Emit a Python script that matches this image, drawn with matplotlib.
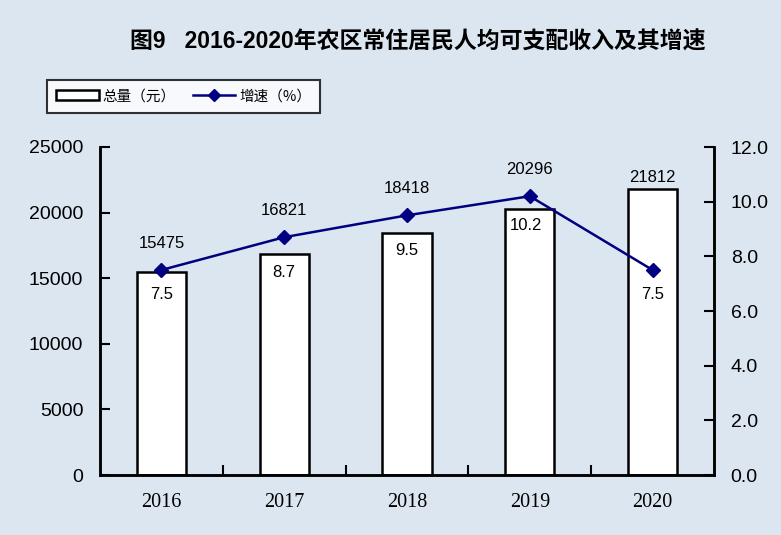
import matplotlib
matplotlib.use("Agg")
import matplotlib.pyplot as plt
from matplotlib.lines import Line2D
from matplotlib.patches import Patch

years = ["2016", "2017", "2018", "2019", "2020"]
income = [15475, 16821, 18418, 20296, 21812]
growth = [7.5, 8.7, 9.5, 10.2, 7.5]

bg = "#dce6f1"
navy = "#000080"
sans = ["Liberation Sans", "Noto Sans CJK SC", "DejaVu Sans"]
cjk = ["Noto Sans CJK SC", "DejaVu Sans"]

fig = plt.figure(figsize=(7.81, 5.35), dpi=100, facecolor=bg)
ax = fig.add_axes([100 / 781, 60 / 535, 614 / 781, 328 / 535])
ax.set_facecolor(bg)
ax2 = ax.twinx()

x = list(range(len(years)))
ax.bar(x, income, width=0.40, color="white", edgecolor="black", linewidth=1.8, zorder=2)
ax2.plot(x, growth, color=navy, linewidth=1.8, marker="D", markersize=7.5, zorder=3)

ax.set_xlim(-0.5, 4.5)
ax.set_ylim(0, 25000)
ax.set_yticks(range(0, 25001, 5000))
ax2.set_ylim(0, 12)
ax2.set_yticks([0, 2, 4, 6, 8, 10, 12])
ax2.set_yticklabels([f"{v:.1f}" for v in [0, 2, 4, 6, 8, 10, 12]])

ax.set_xticks(x)
ax.set_xticklabels(years, fontfamily="Liberation Serif", fontsize=14.5)
ax.set_xticks([0.5, 1.5, 2.5, 3.5], minor=True)
ax.tick_params(axis="x", which="major", length=0, pad=13)
ax.tick_params(axis="x", which="minor", direction="in", length=7, width=1.5)
ax.tick_params(axis="y", direction="in", length=7, width=1.5, labelsize=14, pad=12)
ax2.tick_params(axis="y", direction="in", length=7, width=1.5, labelsize=14, pad=12)
for t in ax.get_yticklabels() + ax2.get_yticklabels():
    t.set_fontfamily("Liberation Sans")

for a in (ax, ax2):
    a.spines["top"].set_visible(False)
    for s in ("left", "right", "bottom"):
        a.spines[s].set_linewidth(1.8)

# value labels (offsets in points, chosen to sit like the original)
inc_off = [14, 14, 14, 14, 3]
for i, v in enumerate(income):
    top = max(v, growth[i] / 12 * 25000)
    ax.annotate(str(v), (i, top), xytext=(0, inc_off[i]), textcoords="offset points",
                ha="center", va="bottom", fontsize=12, fontfamily="Liberation Sans")
grow_off = [-12, -20, -20, -16, -12]
for i, g in enumerate(growth):
    ax2.annotate(f"{g:.1f}", (i, g), xytext=(-3 if i == 3 else 0, grow_off[i]),
                 textcoords="offset points", ha="center", va="top",
                 fontsize=12, fontfamily="Liberation Sans")

fig.text(418 / 781, 1 - 42 / 535, "图9   2016-2020年农区常住居民人均可支配收入及其增速",
         ha="center", va="center", fontsize=16.5, fontweight="bold", fontfamily=sans)

handles = [Patch(facecolor="white", edgecolor="black", linewidth=1.8),
           Line2D([], [], color=navy, linewidth=1.8, marker="D", markersize=6.5)]
leg = fig.legend(handles, ["总量（元）", "增速（%）"], loc="upper left",
                 bbox_to_anchor=(47 / 781, 1 - 80 / 535), ncol=2, frameon=True,
                 fancybox=False, edgecolor="black", facecolor="white",
                 prop={"family": cjk, "size": 10.5}, borderaxespad=0,
                 handlelength=2.9, handletextpad=0.25, columnspacing=1.2,
                 borderpad=0.65)
leg.get_frame().set_linewidth(1.5)

fig.savefig("out.png", dpi=100, facecolor=bg)
